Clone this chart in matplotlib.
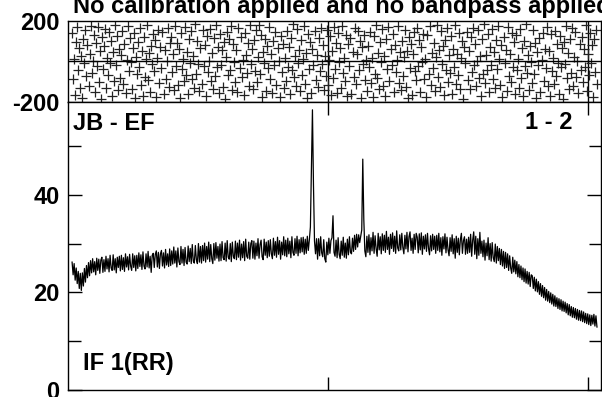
import numpy as np
import matplotlib.pyplot as plt

# amplitude spectrum (512 channels)
amp = [
    26.2, 23.6, 25.9, 22.5, 25.0, 21.8, 24.3, 20.8, 23.9, 20.4, 24.0, 21.3, 24.9, 22.1, 25.5, 23.0,
    26.1, 23.4, 26.5, 24.0, 26.9, 24.2, 26.3, 23.6, 27.0, 24.5, 26.8, 23.9, 26.6, 27.2, 24.1, 26.7,
    24.3, 27.4, 24.8, 26.9, 24.2, 27.6, 25.0, 24.5, 27.7, 24.6, 26.9, 24.0, 27.2, 25.1, 27.4, 24.4,
    27.6, 24.7, 27.1, 24.3, 27.9, 25.2, 27.3, 24.6, 27.8, 25.4, 24.5, 27.9, 25.1, 27.5, 24.4, 27.6,
    24.9, 28.1, 25.3, 27.7, 24.7, 28.3, 25.4, 24.8, 27.9, 25.2, 28.4, 25.0, 27.4, 24.1, 27.6, 28.0,
    25.1, 27.8, 28.5, 25.2, 28.2, 24.9, 27.9, 28.6, 25.4, 28.1, 25.0, 28.8, 25.6, 27.9, 25.3, 28.9,
    25.5, 28.5, 25.8, 29.3, 26.0, 28.5, 25.2, 29.1, 26.3, 25.7, 29.4, 26.0, 28.8, 25.5, 29.2, 26.2,
    25.8, 29.5, 26.3, 29.0, 25.9, 29.8, 26.4, 26.0, 29.6, 26.7, 25.9, 30.0, 26.2, 29.4, 26.0, 29.6,
    26.5, 30.1, 26.2, 29.4, 26.8, 30.3, 26.3, 29.8, 26.9, 25.9, 30.0, 26.6, 30.2, 27.0, 29.4, 26.4,
    29.9, 26.5, 30.4, 27.1, 26.7, 30.1, 26.4, 30.6, 27.2, 26.8, 30.0, 26.3, 30.3, 27.4, 26.9, 30.5,
    26.7, 30.1, 27.2, 30.7, 26.6, 29.9, 27.1, 30.4, 26.5, 30.9, 27.4, 27.0, 30.3, 26.8, 30.0, 30.6,
    27.0, 30.5, 26.8, 30.1, 27.5, 31.0, 27.0, 29.8, 30.7, 27.3, 26.7, 30.9, 27.6, 30.3, 27.1, 30.6,
    27.4, 30.8, 27.9, 26.9, 31.1, 27.6, 30.4, 27.2, 31.3, 27.8, 30.6, 26.8, 30.3, 27.7, 31.4, 27.5,
    30.7, 27.3, 31.1, 27.9, 30.5, 27.1, 31.4, 28.2, 27.6, 31.0, 28.0, 31.5, 27.5, 30.8, 28.1, 31.2,
    28.3, 31.3, 27.8, 30.9, 28.0, 31.5, 28.6, 30.8, 33.4, 45.0, 57.4, 42.0, 30.5, 27.9, 31.0, 26.8,
    31.0, 27.5, 31.4, 28.1, 27.3, 30.8, 26.9, 26.2, 30.3, 27.7, 31.1, 28.0, 30.6, 31.2, 35.7, 28.2,
    27.4, 30.7, 27.1, 31.2, 27.8, 26.9, 30.5, 27.6, 31.3, 27.2, 30.1, 27.0, 30.9, 27.7, 31.4, 28.2,
    27.9, 31.1, 28.4, 31.7, 28.8, 31.9, 29.3, 31.8, 30.2, 31.5, 32.8, 47.3, 35.0, 28.5, 27.3, 31.5,
    28.2, 31.8, 27.7, 31.2, 28.5, 32.3, 28.0, 31.6, 28.9, 27.4, 32.1, 28.7, 31.4, 27.9, 32.0, 28.6,
    31.7, 28.2, 32.5, 28.8, 31.3, 27.8, 31.9, 29.0, 32.2, 28.4, 31.5, 28.0, 32.6, 29.1, 28.5, 31.8,
    28.7, 32.1, 29.2, 27.9, 31.7, 28.9, 32.3, 28.3, 31.4, 32.4, 28.6, 31.1, 28.0, 31.9, 28.8, 32.1,
    31.3, 28.1, 32.0, 28.7, 32.2, 27.8, 31.5, 28.9, 31.8, 28.4, 32.1, 29.0, 27.7, 31.6, 28.5, 31.9,
    28.8, 31.5, 28.0, 31.7, 28.6, 32.1, 28.3, 31.2, 27.6, 31.4, 28.9, 32.0, 28.1, 31.3, 28.7, 27.5,
    31.2, 28.4, 31.8, 27.9, 31.0, 27.0, 31.5, 28.2, 31.1, 27.7, 30.8, 32.1, 28.0, 30.6, 31.4, 27.8,
    30.9, 28.0, 31.3, 28.2, 31.9, 27.4, 30.7, 32.4, 27.8, 31.5, 26.9, 31.0, 27.6, 32.3, 28.0, 30.5,
    27.3, 30.7, 26.6, 30.1, 27.5, 31.2, 26.7, 30.0, 26.4, 30.2, 27.1, 26.3, 29.9, 26.0, 29.4, 26.5,
    29.0, 25.7, 28.8, 25.4, 28.4, 24.9, 28.2, 25.1, 27.9, 24.5, 27.5, 25.0, 23.9, 27.2, 24.2, 26.6,
    23.8, 26.3, 23.2, 25.7, 23.0, 25.4, 22.6, 25.0, 22.2, 24.8, 21.9, 24.3, 21.7, 24.1, 21.2, 23.6,
    23.4, 20.8, 23.1, 20.3, 22.7, 20.1, 22.2, 19.6, 21.8, 19.2, 21.4, 18.9, 21.0, 18.4, 20.6, 18.2,
    20.2, 17.9, 19.9, 17.6, 19.6, 17.2, 19.3, 17.1, 18.9, 16.7, 18.7, 16.5, 18.5, 16.2, 18.2, 16.1,
    18.0, 15.8, 17.7, 15.4, 17.5, 15.2, 17.1, 14.9, 16.9, 14.8, 16.7, 14.5, 16.5, 14.3, 16.3, 14.2,
    16.2, 14.0, 16.0, 13.8, 15.7, 13.6, 15.6, 13.4, 15.4, 13.2, 15.3, 13.5, 15.5, 13.1, 15.2, 12.9,
]

# phase per channel (degrees), scattered over the whole range
phase = [
    143, -87, 12, -165, 98, 171, -42, 65, -133, 27, -178, 110, -9, 156, -71, 83,
    -120, 39, 177, -58, 4, 132, -149, 91, -23, 168, -101, 54, -184, 119, -36, 75,
    161, -129, 18, -67, 147, -5, 103, -172, 46, -94, 182, -17, 127, -141, 60, -80,
    33, 151, -112, 86, -155, 7, 174, -48, 115, -2, -137, 69, 139, -181, 24, -63,
    95, -27, 163, -118, 51, -169, 122, -76, 10, 180, -91, 41, -152, 79, -11, 136,
    -45, 107, -175, 16, 158, -104, 72, -31, 145, -160, 58, -84, 1, 166, -126, 89,
    123, -53, 35, -143, 176, -20, 92, -116, 62, -179, 140, -38, 14, -96, 170, -69,
    48, -163, 112, -7, 150, -88, 26, -131, 183, -60, 99, -14, -146, 66, -110, 154,
    -24, 81, -170, 125, -50, 3, 162, -97, 44, -136, 117, -73, 179, -29, 70, -158,
    134, -15, 57, -124, 96, -183, 21, 148, -65, 109, -41, 173, -140, 85, -3, -103,
    59, -150, 167, -34, 120, -79, 9, -167, 141, 30, -56, 93, -121, 178, -12, 64,
    -138, 104, -46, 157, -99, 22, 181, -64, 131, -176, 49, -8, 113, -147, 76, -33,
    169, -85, 38, -157, 101, -19, 144, -114, 67, 2, -174, 128, -52, 87, -132, 17,
    -94, 152, -26, 74, -162, 116, -43, 184, -77, 28, -123, 160, -6, 55, -145, 106,
    -66, 13, 175, -109, 43, -180, 137, -35, 97, -156, 61, -18, 149, -90, 31, -128,
    118, -49, 164, -10, 82, -142, 25, -72, 155, -117, 6, 126, -166, 50, -83, 172,
    -37, 90, -154, 142, -1, 68, -130, 177, -57, 19, -98, 133, -171, 84, -22, 114,
    -161, 47, -75, 165, -113, 36, 153, -44, 102, -179, 73, -13, 130, -92, 8, -148,
    78, -28, 146, -106, 15, -173, 124, -61, 181, -82, 40, -135, 94, -4, 159, -119,
    29, -168, 111, -39, 171, -95, 63, -16, 138, -151, 80, -54, 5, 176, -108, 45,
    -139, 100, -70, 20, 158, -127, 53, -182, 121, -30, 88, -164, 37, 147, -47, -89,
    166, -21, 108, -153, 71, -2, 135, -86, 11, -177, 129, -60, 174, -115, 42, -32,
    92, -144, 23, 180, -78, 56, -125, 150, -11, 77, -166, 105, -40, 163, -100, 34,
    -55, 127, -159, 61, -25, 178, -111, 39, -68, 141, -134, 18, 99, -185, 73, -7,
    145, -93, 52, -138, 119, -51, 167, -15, 85, -122, 0, 154, -80, 27, -170, 113,
    -62, 183, -105, 33, -44, 136, -150, 70, -19, 160, -88, 48, -131, 108, -36, 175,
    14, -116, 81, -176, 123, -9, 58, -147, 170, -74, 39, -102, 143, -27, 96, -160,
    132, -42, 12, -129, 161, -81, 65, -168, 103, -23, 184, -58, 30, -141, 79, -3,
    -107, 157, -64, 92, -179, 46, -18, 118, -153, 7, 139, -97, 60, -34, 172, -121,
    51, -171, 134, -48, 17, -110, 152, -71, 88, -6, -162, 124, -29, 67, -186, 98,
    -14, 173, -83, 40, -137, 111, -56, 165, -119, 24, 148, -76, 2, -154, 87, -41,
    121, -99, 63, -25, 178, -146, 35, -65, 140, -8, 83, -173, 109, -50, 156, -112,
]

title = "No calibration applied and no bandpass applied"
baseline = "JB - EF"
stokes = "IF 1(RR)"
pair = "1 - 2"

plt.rcParams['font.family'] = ['Liberation Sans', 'DejaVu Sans']
plt.rcParams['font.weight'] = 'bold'
plt.rcParams['font.size'] = 17
plt.rcParams['axes.unicode_minus'] = False

chan_amp = np.linspace(4, 521, len(amp))
chan_ph = np.linspace(4, 521, len(phase))

fig = plt.figure(figsize=(6.02, 3.97), dpi=100)
ax_ph = fig.add_axes([0.1130, 0.7431, 0.8854, 0.2040])
ax_amp = fig.add_axes([0.1130, 0.01763, 0.8854, 0.7254])

# phase panel
ax_ph.plot(chan_ph, phase, '+', color='#222222', ms=7, mew=0.9)
ax_ph.axhline(0, color='black', lw=1)
ax_ph.set_xlim(0, 525)
ax_ph.set_ylim(-200, 200)
ax_ph.set_yticks([-200, 200])
ax_ph.set_xticks([256, 512])
ax_ph.set_xticklabels([])
ax_ph.tick_params(axis='y', length=0, pad=6)
ax_ph.tick_params(axis='x', direction='in', top=True, bottom=True, length=30, width=1)

# amplitude panel
ax_amp.plot(chan_amp, amp, color='black', lw=0.9)
ax_amp.set_xlim(0, 525)
ax_amp.set_ylim(0, 59)
ax_amp.set_yticks([0, 20, 40])
ax_amp.set_yticks([10, 30, 50], minor=True)
ax_amp.set_xticks([256, 512])
ax_amp.set_xticklabels([])
ax_amp.tick_params(axis='y', which='both', direction='in', left=True, right=True, width=1, pad=6)
ax_amp.tick_params(axis='y', which='major', length=10)
ax_amp.tick_params(axis='y', which='minor', length=9)
ax_amp.tick_params(axis='x', direction='in', top=True, bottom=True, length=9.5, width=1)

for ax in (ax_ph, ax_amp):
    for s in ax.spines.values():
        s.set_linewidth(1)
    for lab in ax.get_yticklabels():
        lab.set_fontweight('bold')

ax_amp.text(0.0094, 0.903, baseline, transform=ax_amp.transAxes, ha='left', va='baseline', fontweight='bold')
ax_amp.text(0.947, 0.906, pair, transform=ax_amp.transAxes, ha='right', va='baseline', fontweight='bold')
ax_amp.text(0.028, 0.069, stokes, transform=ax_amp.transAxes, ha='left', va='baseline', fontweight='bold')
fig.text(0.1213, 0.967, title, ha='left', va='baseline', fontweight='bold')

fig.savefig("out.png", dpi=100)
